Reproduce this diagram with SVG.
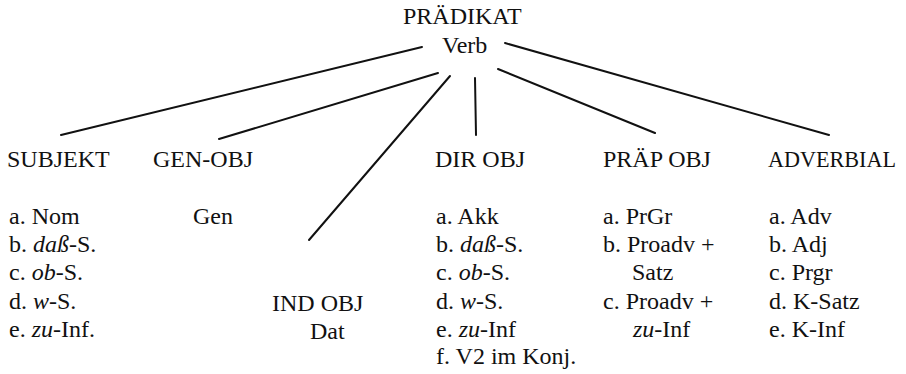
<svg xmlns="http://www.w3.org/2000/svg" width="906" height="374" viewBox="0 0 906 374" font-family="Liberation Serif, Times New Roman, serif" font-size="24">
<style>
text{fill:#111}
.i{font-style:italic}
.c{stroke:#111;stroke-width:2;fill:none;stroke-linecap:round}
</style>
<rect width="906" height="374" fill="#fff"/>
<g id="connectors">
<line class="c" x1="422" y1="47" x2="61" y2="135"/>
<line class="c" x1="438" y1="73" x2="219" y2="139"/>
<line class="c" x1="450" y1="76" x2="309" y2="240"/>
<line class="c" x1="475" y1="78" x2="476" y2="135"/>
<line class="c" x1="498" y1="69" x2="655" y2="133"/>
<line class="c" x1="505" y1="43" x2="829" y2="135"/>
</g>
<g id="praedikat">
<text x="403" y="24">PRÄDIKAT</text>
<text x="442" y="53">Verb</text>
</g>
<g id="subjekt">
<text x="7" y="167">SUBJEKT</text>
<text x="9" y="224">a. Nom</text>
<text x="9" y="252">b. <tspan class="i">daß</tspan>-S.</text>
<text x="9" y="280">c. <tspan class="i">ob</tspan>-S.</text>
<text x="9" y="309">d. <tspan class="i">w</tspan>-S.</text>
<text x="9" y="337">e. <tspan class="i">zu</tspan>-Inf.</text>
</g>
<g id="gen-obj">
<text x="153" y="167">GEN-OBJ</text>
<text x="193" y="224">Gen</text>
</g>
<g id="ind-obj">
<text x="272" y="311">IND OBJ</text>
<text x="310" y="339">Dat</text>
</g>
<g id="dir-obj">
<text x="435" y="167">DIR OBJ</text>
<text x="436" y="224">a. Akk</text>
<text x="436" y="252">b. <tspan class="i">daß</tspan>-S.</text>
<text x="436" y="280">c. <tspan class="i">ob</tspan>-S.</text>
<text x="436" y="309">d. <tspan class="i">w</tspan>-S.</text>
<text x="436" y="337">e. <tspan class="i">zu</tspan>-Inf</text>
<text x="436" y="364">f. V2 im Konj.</text>
</g>
<g id="praep-obj">
<text x="603" y="167">PRÄP OBJ</text>
<text x="603" y="224">a. PrGr</text>
<text x="603" y="252">b. Proadv +</text>
<text x="632" y="280">Satz</text>
<text x="603" y="309">c. Proadv +</text>
<text x="633" y="337"><tspan class="i">zu</tspan>-Inf</text>
</g>
<g id="adverbial">
<text x="768" y="167" textLength="128" lengthAdjust="spacingAndGlyphs">ADVERBIAL</text>
<text x="769" y="224">a. Adv</text>
<text x="769" y="252">b. Adj</text>
<text x="769" y="280">c. Prgr</text>
<text x="769" y="309">d. K-Satz</text>
<text x="769" y="337">e. K-Inf</text>
</g>
</svg>
